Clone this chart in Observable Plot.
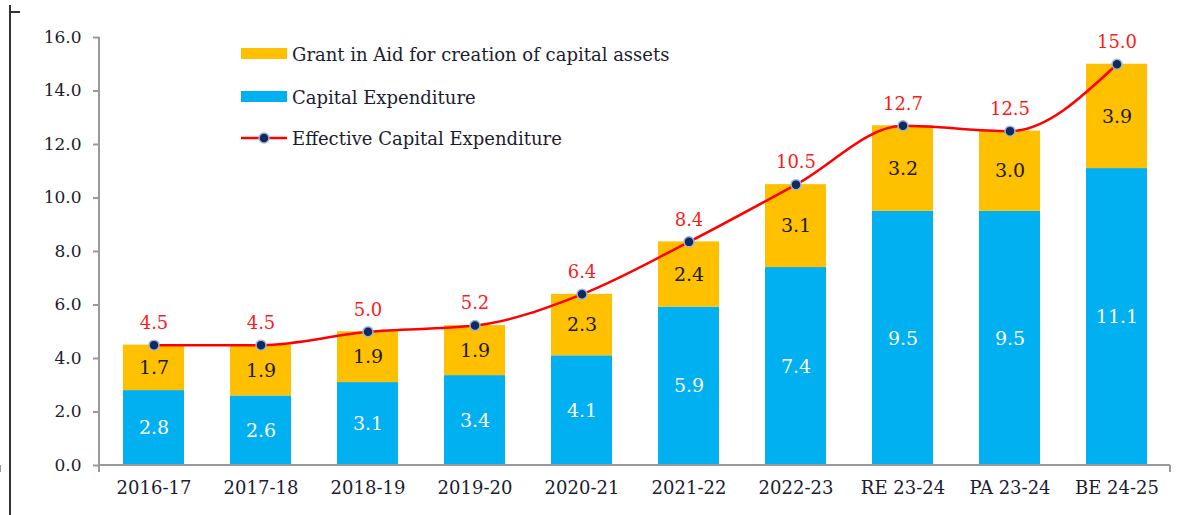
<!DOCTYPE html>
<html><head><meta charset="utf-8">
<script src="https://cdn.jsdelivr.net/npm/d3@7"></script>
<script src="https://cdn.jsdelivr.net/npm/@observablehq/plot@0.6"></script>
<style>
body{margin:0;background:#fff;}
#wrap{position:relative;width:1199px;height:515px;font-family:"DejaVu Serif","Liberation Serif",serif;overflow:hidden;}
#frameV{position:absolute;left:9px;top:5px;width:2px;height:510px;background:#333;}
#frameH{position:absolute;left:9px;top:11px;width:11px;height:2px;background:#333;}
.lg{position:absolute;left:241px;height:20px;display:flex;align-items:center;font-size:18px;color:#1c1c30;white-space:nowrap;}
.lg svg{margin-right:5px;}
#chart{position:absolute;left:0;top:0;}
</style></head>
<body>
<div id="wrap">
  <div id="chart"></div>
  <div id="frameV"></div><div id="frameH"></div>
  <div id="legend"></div>
</div>
<script>
const categories = ["2016-17","2017-18","2018-19","2019-20","2020-21","2021-22","2022-23","RE 23-24","PA 23-24","BE 24-25"];
const capitalExpenditure = [2.8, 2.6, 3.1, 3.36, 4.1, 5.92, 7.4, 9.5, 9.5, 11.1];
const grantInAid = [1.7, 1.9, 1.9, 1.87, 2.3, 2.44, 3.1, 3.2, 3.0, 3.9];
const effectiveCapex = [4.5, 4.5, 5.0, 5.23, 6.4, 8.36, 10.5, 12.7, 12.5, 15.0];
const yTicks = [0, 2, 4, 6, 8, 10, 12, 14, 16];
const seriesNames = ["Capital Expenditure", "Grant in Aid for creation of capital assets"];
const lineName = "Effective Capital Expenditure";
const seriesColors = ["#00B0F0", "#FFC000"];

const rows = categories.flatMap((c, i) => [
  {cat: c, series: seriesNames[0], value: capitalExpenditure[i]},
  {cat: c, series: seriesNames[1], value: grantInAid[i]}
]);
const totals = categories.map((c, i) => ({cat: c, value: effectiveCapex[i]}));

const axisGrey = "#9a9a9a";
const txt = "#1c1c30";

// custom axis lines + boundary ticks drawn from the band scale
function axisFrame(index, scales, values, dims) {
  const {x, y} = scales;
  const g = d3.create("svg:g").attr("stroke", axisGrey).attr("stroke-width", 2).attr("fill", "none");
  const left = dims.marginLeft, right = dims.width - dims.marginRight;
  const y0 = y(0), yTop = y(16);
  g.append("line").attr("x1", left).attr("x2", left).attr("y1", yTop).attr("y2", y0);
  g.append("line").attr("x1", left).attr("x2", right).attr("y1", y0).attr("y2", y0);
  const bw = x.bandwidth;
  const bounds = [left];
  for (let i = 0; i < categories.length - 1; i++) {
    bounds.push((x(categories[i]) + bw + x(categories[i + 1])) / 2);
  }
  bounds.push(right);
  for (const b of bounds) g.append("line").attr("x1", b).attr("x2", b).attr("y1", y0).attr("y2", y0 + 7);
  return g.node();
}

const chart = Plot.plot({
  width: 1199,
  height: 515,
  marginLeft: 99,
  marginRight: 29,
  marginTop: 37,
  marginBottom: 50,
  style: {fontFamily: '"DejaVu Serif","Liberation Serif",serif', fontSize: "18px", color: txt, background: "transparent"},
  x: {domain: categories, paddingInner: 0.43, paddingOuter: 0.215, label: null},
  y: {domain: [0, 16], label: null},
  color: {domain: seriesNames, range: seriesColors},
  marks: [
    Plot.barY(rows, {x: "cat", y: "value", fill: "series"}),
    Plot.text(rows, Plot.stackY({x: "cat", y: "value", text: d => d.value.toFixed(1),
      fill: d => d.series === seriesNames[0] ? "#ffffff" : "#1a1a1a", fontSize: 19})),
    Plot.line(totals, {x: "cat", y: "value", stroke: "#ff0000", strokeWidth: 2.5, curve: "monotone-x"}),
    Plot.dot(totals, {x: "cat", y: "value", r: 5, fill: "#0e2a5e", stroke: "#9fb5d6", strokeWidth: 1.5}),
    Plot.text(totals, {x: "cat", y: "value", text: d => d.value.toFixed(1), dy: -22, fill: "#ff1a1a", fontSize: 18}),
    Plot.axisY({ticks: yTicks, tickFormat: d => d.toFixed(1), tickSize: 6, tickPadding: 12, stroke: axisGrey, strokeWidth: 2, fontSize: 17}),
    Plot.axisX({tickSize: 0, tickPadding: 16, fontSize: 18}),
    axisFrame
  ]
});
document.getElementById("chart").appendChild(chart);

// legend
const legend = document.getElementById("legend");
const legendItems = [
  {name: seriesNames[1], kind: "rect", color: seriesColors[1], top: 44},
  {name: seriesNames[0], kind: "rect", color: seriesColors[0], top: 87},
  {name: lineName, kind: "line", color: "#ff0000", top: 128}
];
for (const it of legendItems) {
  const d = document.createElement("div");
  d.className = "lg";
  d.style.top = it.top + "px";
  const sw = it.kind === "rect"
    ? `<svg width="46" height="20"><rect x="0" y="4" width="46" height="11" fill="${it.color}"/></svg>`
    : `<svg width="46" height="20"><line x1="0" x2="46" y1="10" y2="10" stroke="${it.color}" stroke-width="2.5"/><circle cx="23" cy="10" r="5" fill="#0e2a5e" stroke="#9fb5d6" stroke-width="1.5"/></svg>`;
  d.innerHTML = sw + `<span>${it.name}</span>`;
  legend.appendChild(d);
}
</script>
</body></html>
